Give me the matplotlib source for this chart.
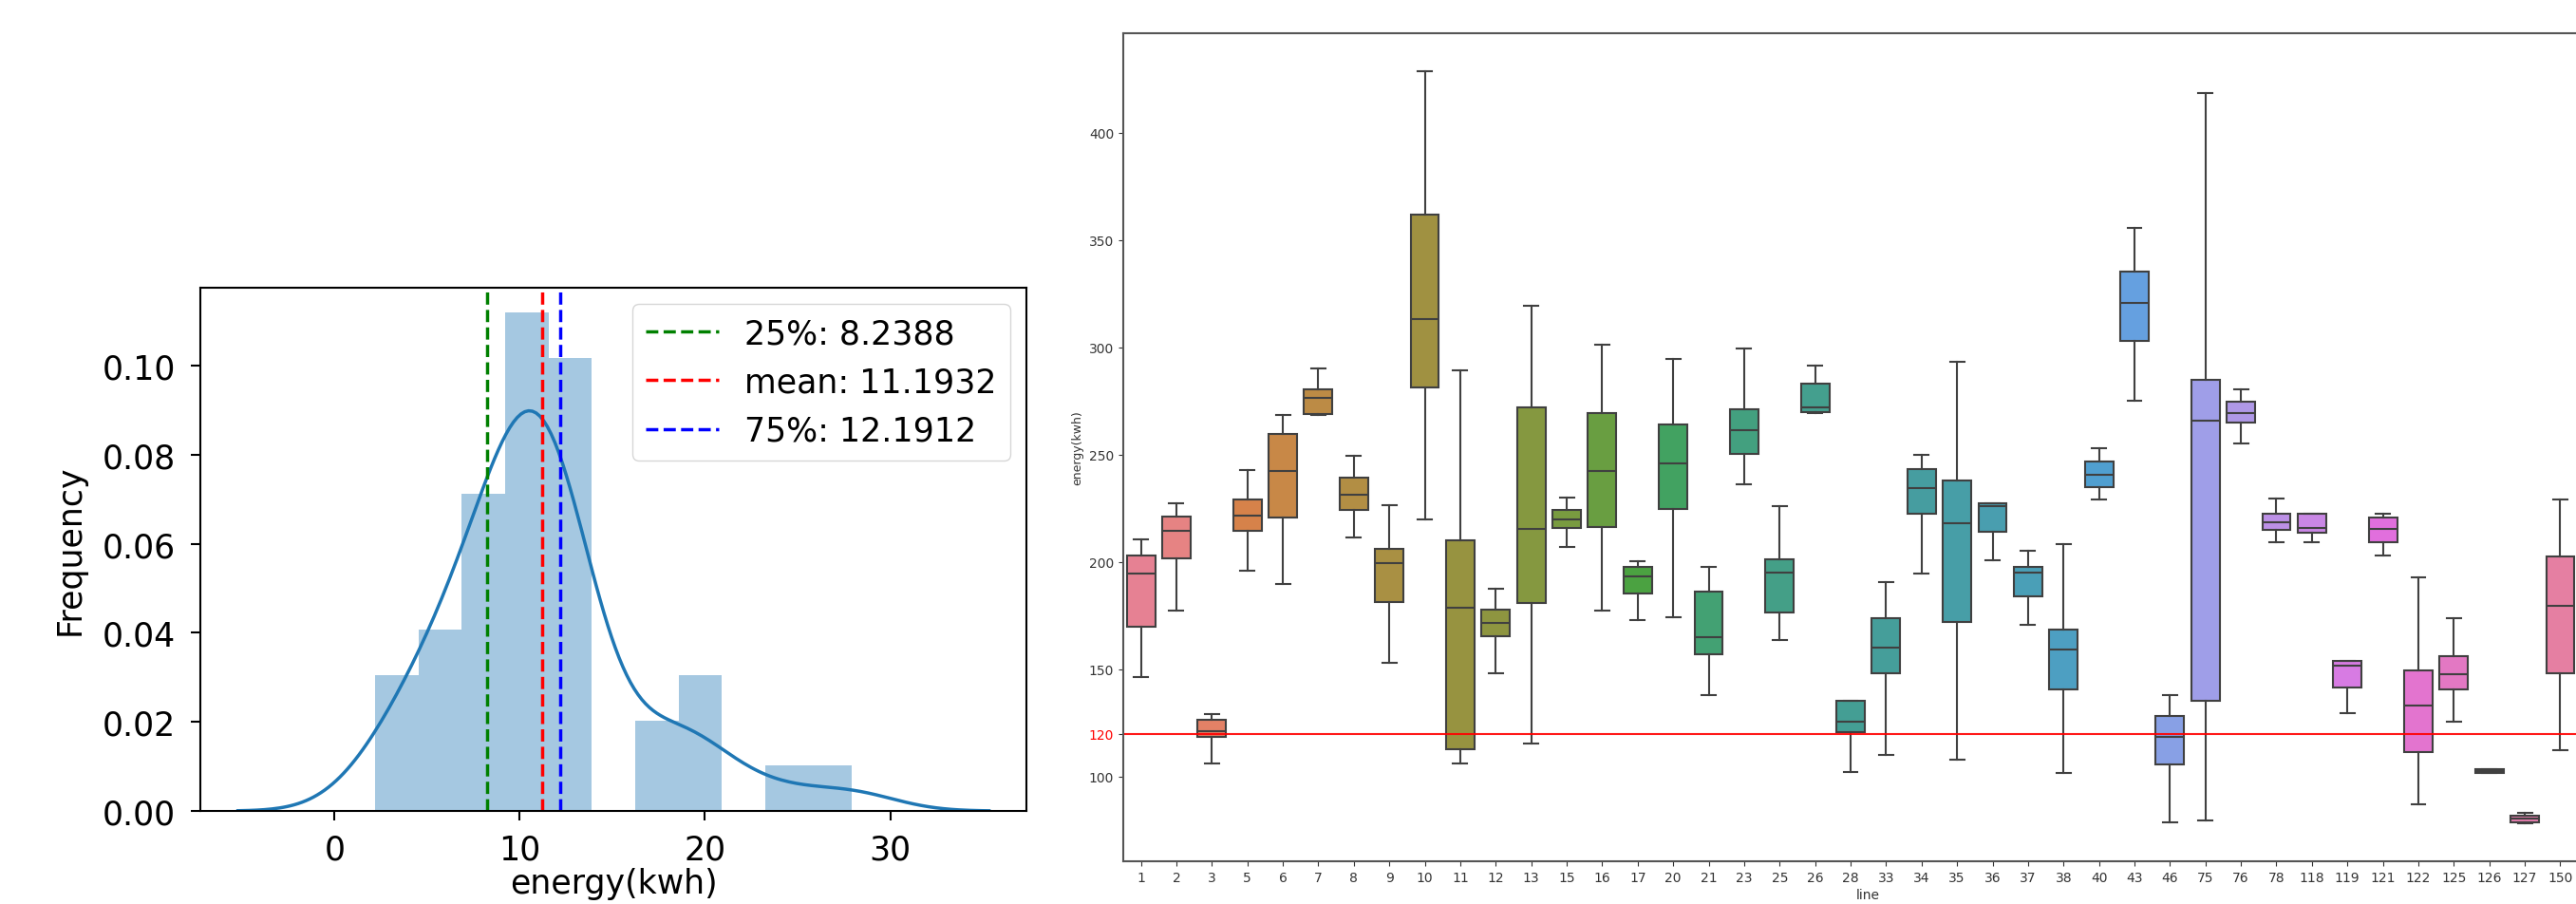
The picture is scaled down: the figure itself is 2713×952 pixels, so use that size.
import colorsys
import numpy as np
import matplotlib
matplotlib.use('Agg')
import matplotlib.pyplot as plt
import seaborn as sns

# mean daily energy per line (kwh)
energy = [2.19, 3.4, 4.1, 4.8, 5.4, 6.0, 6.5, 7.1, 7.6, 7.9, 8.15, 8.3, 8.7, 9.0,
          9.4, 9.7, 9.9, 10.1, 10.3, 10.5, 10.7, 10.9, 11.0, 11.2, 11.4,
          11.7, 11.8, 11.95, 12.05, 12.15, 12.25, 12.5, 12.6, 12.9, 13.4,
          16.5, 17.5, 18.8, 19.3, 20.0, 23.6, 27.93]
q25, mean, q75 = 8.2388, 11.1932, 12.1912

# box stats per line
lines = ['1', '2', '3', '5', '6', '7', '8', '9', '10', '11', '12', '13', '15', '16',
         '17', '20', '21', '23', '25', '26', '28', '33', '34', '35', '36', '37', '38',
         '40', '43', '46', '75', '76', '78', '118', '119', '121', '122', '125', '126',
         '127', '150']
whislo = [146.5, 177.4, 106.2, 195.8, 189.8, 268.3, 211.5, 152.8, 219.6, 106.2,
          148.2, 115.2, 206.9, 177.4, 173.0, 174.4, 137.9, 236.1, 163.8, 269.3,
          102.2, 110.3, 194.7, 108.1, 200.9, 170.9, 101.6, 229.0, 275.0, 78.6,
          79.7, 255.0, 209.0, 209.0, 129.5, 202.8, 87.0, 125.7, 101.6, 78.1, 112.2]
q1 = [169.8, 201.5, 118.7, 214.4, 220.9, 268.8, 224.2, 181.2, 281.3, 112.7,
      165.5, 180.9, 215.8, 216.3, 185.5, 224.7, 156.8, 250.4, 176.3, 269.6,
      120.8, 148.2, 222.5, 172.0, 214.2, 184.1, 140.6, 234.7, 302.9, 105.7,
      135.2, 265.0, 215.0, 213.4, 141.4, 209.0, 111.6, 140.6, 101.6, 78.9, 148.2]
med = [194.7, 214.4, 121.1, 221.7, 242.3, 276.4, 231.5, 199.6, 313.2, 178.5,
       171.4, 215.2, 219.6, 242.3, 193.1, 245.8, 164.9, 261.5, 195.2, 272.1,
       125.7, 160.3, 234.2, 217.9, 226.1, 195.2, 159.3, 240.7, 320.5, 118.4,
       265.6, 269.3, 218.5, 215.8, 151.9, 215.2, 133.0, 147.9, 102.4, 80.3, 179.5]
q3 = [202.8, 221.2, 126.3, 229.3, 259.6, 280.4, 239.3, 206.3, 361.9, 210.1,
      177.9, 271.8, 224.2, 269.3, 197.9, 264.2, 186.3, 271.2, 201.2, 283.1,
      135.2, 173.6, 243.4, 238.0, 227.2, 197.9, 168.5, 246.9, 335.4, 128.2,
      284.8, 274.8, 222.5, 222.5, 154.1, 220.7, 149.5, 156.3, 103.3, 81.9, 202.5]
whishi = [210.6, 227.2, 129.2, 242.8, 268.5, 289.9, 249.6, 226.6, 428.7, 289.4,
          187.4, 319.1, 230.1, 301.0, 200.4, 294.5, 197.9, 299.6, 226.1, 291.3,
          135.2, 190.6, 249.9, 293.4, 227.4, 205.0, 208.5, 252.8, 355.6, 137.9,
          418.4, 280.2, 229.6, 222.5, 154.1, 222.5, 192.8, 173.6, 103.3, 83.2, 229.3]
limit = 120


def gaussian_kde(data, cut=3, gridsize=200):
    data = np.asarray(data)
    bw = data.std(ddof=1) * len(data) ** (-1 / 5)
    grid = np.linspace(data.min() - cut * bw, data.max() + cut * bw, gridsize)
    dens = np.exp(-0.5 * ((grid[:, None] - data[None, :]) / bw) ** 2).sum(axis=1)
    dens /= len(data) * bw * np.sqrt(2 * np.pi)
    return grid, dens


fig = plt.figure(figsize=(27.13, 9.53), dpi=100)

# left: distribution of energy
ax1 = fig.add_axes([0.0778, 0.1028, 0.3207, 0.5782])
ax1.hist(energy, bins=11, density=True, color='C0', alpha=0.4)
xs, ys = gaussian_kde(energy)
ax1.plot(xs, ys, color='C0', lw=2.5)
ax1.axvline(q25, color='green', ls='--', lw=2.5, label=f'25%: {q25}')
ax1.axvline(mean, color='red', ls='--', lw=2.5, label=f'mean: {mean}')
ax1.axvline(q75, color='blue', ls='--', lw=2.5, label=f'75%: {q75}')
ax1.set_xticks([0, 10, 20, 30])
ax1.set_yticks([0, 0.02, 0.04, 0.06, 0.08, 0.10])
ax1.set_yticklabels(['0.00', '0.02', '0.04', '0.06', '0.08', '0.10'])
ax1.tick_params(labelsize=25, length=7, width=1.5)
ax1.tick_params(axis='x', pad=10)
ax1.tick_params(axis='y', pad=12)
ax1.set_xlabel('energy(kwh)', fontsize=25, labelpad=1)
ax1.set_ylabel('Frequency', fontsize=25, labelpad=12)
for s in ax1.spines.values():
    s.set_linewidth(1.5)
ax1.legend(loc='upper right', fontsize=25, handlelength=2.2)

# right: energy by line
ax2 = fig.add_axes([0.436, 0.0472, 0.5648, 0.915])
stats = []
for i in range(len(lines)):
    stats.append(dict(whislo=whislo[i], q1=q1[i], med=med[i], q3=q3[i],
                      whishi=whishi[i], label=lines[i]))
colors = [sns.desaturate(c, 0.75) for c in sns.color_palette('husl', len(lines))]
gray_l = min(colorsys.rgb_to_hls(*c)[1] for c in colors) * 0.6
gray = (gray_l, gray_l, gray_l)
bp = ax2.bxp(stats, positions=range(len(lines)), widths=0.8, patch_artist=True,
             showfliers=False,
             boxprops=dict(edgecolor=gray, linewidth=1.5),
             whiskerprops=dict(color=gray, linewidth=1.5),
             capprops=dict(color=gray, linewidth=1.5),
             medianprops=dict(color=gray, linewidth=1.5))
for patch, c in zip(bp['boxes'], colors):
    patch.set_facecolor(c)
ax2.axhline(limit, color='red', lw=1.5, alpha=0.9)
ax2.set_xlim(-0.5, len(lines) - 0.5)
ax2.set_xticks(range(len(lines)))
ax2.set_xticklabels(lines)
ax2.set_yticks([100, 120, 150, 200, 250, 300, 350, 400])
ax2.tick_params(axis='x', labelsize=10, colors='#333333')
ax2.tick_params(axis='y', labelsize=10, colors='#333333')
ax2.get_yticklabels()[1].set_color('red')
ax2.set_ylabel('energy(kwh)', fontsize=9, color='#333333')
ax2.set_xlabel('line', fontsize=10, color='#333333')
ax2.xaxis.set_label_coords(0.512, -0.032)
for s in ax2.spines.values():
    s.set_color('#555555')
    s.set_linewidth(1.5)

fig.savefig('out.png', dpi=100)
